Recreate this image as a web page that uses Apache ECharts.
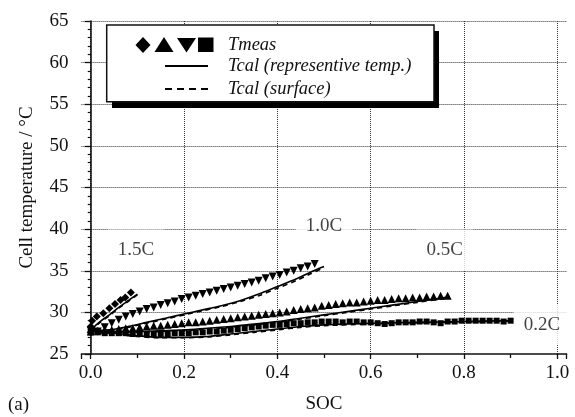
<!DOCTYPE html>
<html><head><meta charset="utf-8">
<script src="https://cdn.jsdelivr.net/npm/echarts@6/dist/echarts.min.js"></script>
<style>html,body{margin:0;padding:0;background:#fff}#c{width:575px;height:417px}</style>
</head><body><div id="c"></div>
<script>
// ---- data (SOC, temperature °C) ----
const meas15 = [[0,27.6],[0.005,27.9],[0,28.3],[0.003,29.0],[0.013,29.5],[0.027,29.9],[0.04,30.5],[0.052,31.0],[0.064,31.5],[0.074,31.8],[0.086,32.4]];
const meas10 = [[0,27.8],[0.015,27.7],[0.03,28.2],[0.045,28.7],[0.06,29.1],[0.075,29.5],[0.09,29.8],[0.105,30.1],[0.12,30.4],[0.135,30.6],[0.15,30.9],[0.165,31.1],[0.18,31.3],[0.195,31.6],[0.21,31.8],[0.225,32.0],[0.24,32.2],[0.255,32.4],[0.27,32.6],[0.285,32.8],[0.30,33.0],[0.315,33.2],[0.33,33.4],[0.345,33.6],[0.36,33.8],[0.375,34.1],[0.39,34.3],[0.405,34.5],[0.42,34.8],[0.435,35.0],[0.45,35.3],[0.465,35.5],[0.48,35.8]];
const meas05 = [[0,27.7],[0.015,27.8],[0.03,27.9],[0.045,27.9],[0.06,28.0],[0.075,28.1],[0.09,28.1],[0.105,28.2],[0.12,28.3],[0.135,28.4],[0.15,28.4],[0.165,28.5],[0.18,28.6],[0.195,28.7],[0.21,28.8],[0.225,28.8],[0.24,28.9],[0.255,29.0],[0.27,29.1],[0.285,29.2],[0.30,29.3],[0.315,29.4],[0.33,29.5],[0.345,29.6],[0.36,29.7],[0.375,29.8],[0.39,29.9],[0.405,30.0],[0.42,30.1],[0.435,30.3],[0.45,30.4],[0.465,30.5],[0.48,30.6],[0.495,30.8],[0.51,30.9],[0.525,31.0],[0.54,31.1],[0.555,31.2],[0.57,31.2],[0.585,31.3],[0.60,31.4],[0.615,31.5],[0.63,31.5],[0.645,31.6],[0.66,31.7],[0.675,31.7],[0.69,31.8],[0.705,31.8],[0.72,31.9],[0.735,31.9],[0.75,32.0],[0.765,32.0]];
const meas02 = [[0,27.6],[0.015,27.6],[0.03,27.5],[0.045,27.5],[0.06,27.5],[0.075,27.5],[0.09,27.4],[0.105,27.4],[0.12,27.4],[0.135,27.4],[0.15,27.4],[0.165,27.4],[0.18,27.5],[0.195,27.5],[0.21,27.5],[0.225,27.6],[0.24,27.6],[0.255,27.7],[0.27,27.7],[0.285,27.8],[0.30,27.9],[0.315,28.0],[0.33,28.1],[0.345,28.2],[0.36,28.3],[0.375,28.4],[0.39,28.5],[0.405,28.5],[0.42,28.6],[0.435,28.7],[0.45,28.7],[0.465,28.8],[0.48,28.8],[0.495,28.9],[0.51,28.9],[0.525,28.9],[0.54,28.8],[0.555,28.9],[0.57,28.9],[0.585,28.8],[0.60,28.8],[0.615,28.7],[0.63,28.6],[0.645,28.7],[0.66,28.8],[0.675,28.8],[0.69,28.8],[0.705,28.9],[0.72,28.9],[0.735,28.8],[0.75,28.7],[0.765,28.9],[0.78,28.9],[0.795,29.0],[0.81,29.0],[0.825,29.0],[0.84,29.0],[0.855,29.0],[0.87,29.0],[0.885,28.9],[0.90,29.0]];

const calc15 = [[0,27.8],[0.01,28.4],[0.02,28.9],[0.04,29.7],[0.06,30.6],[0.08,31.4],[0.1,32.2]];
const calc10 = [[0,27.8],[0.04,27.9],[0.08,28.3],[0.12,28.8],[0.16,29.3],[0.2,29.8],[0.24,30.3],[0.28,30.8],[0.32,31.4],[0.36,32.2],[0.40,33.1],[0.44,34.0],[0.47,34.8],[0.50,35.5]];
const calc05 = [[0,27.8],[0.05,27.7],[0.1,27.7],[0.15,27.8],[0.2,27.9],[0.25,28.1],[0.3,28.3],[0.35,28.6],[0.4,28.9],[0.45,29.3],[0.5,29.7],[0.55,30.1],[0.6,30.5],[0.65,30.9],[0.7,31.3],[0.75,31.7],[0.77,31.9]];
const calc02 = [[0,27.8],[0.05,27.5],[0.1,27.2],[0.15,27.0],[0.2,27.0],[0.25,27.1],[0.3,27.4],[0.35,27.7],[0.4,28.0],[0.45,28.3],[0.5,28.5],[0.6,28.7],[0.7,28.8],[0.8,28.9],[0.9,29.0]];

const surf15 = [[0,27.8],[0.01,28.3],[0.02,28.8],[0.04,29.6],[0.06,30.5],[0.08,31.3],[0.1,32.1]];
const surf10 = [[0,27.8],[0.04,27.8],[0.08,28.2],[0.12,28.7],[0.16,29.2],[0.2,29.7],[0.24,30.2],[0.28,30.7],[0.32,31.3],[0.36,32.0],[0.40,32.9],[0.44,33.8],[0.47,34.6],[0.50,35.4]];
const surf05 = [[0,27.8],[0.05,27.6],[0.1,27.6],[0.15,27.7],[0.2,27.8],[0.25,28.0],[0.3,28.2],[0.35,28.5],[0.4,28.8],[0.45,29.2],[0.5,29.6],[0.55,30.0],[0.6,30.4],[0.65,30.8],[0.7,31.2],[0.75,31.6],[0.77,31.8]];
const surf02 = [[0,27.8],[0.05,27.4],[0.1,27.1],[0.15,26.95],[0.2,26.95],[0.25,27.05],[0.3,27.3],[0.35,27.6],[0.4,27.9],[0.45,28.2],[0.5,28.4],[0.6,28.6],[0.7,28.75],[0.8,28.85],[0.9,28.95]];

const rateLabels = ['1.5C','1.0C','0.5C','0.2C'];
const rateLabelAt = [[0.097,37.5],[0.5,40.35],[0.759,37.5],[0.967,28.5]];
const xTicks = [0,0.2,0.4,0.6,0.8,1.0];
const yTicks = [25,30,35,40,45,50,55,60,65];
const legendTexts = ['Tmeas','Tcal (representive temp.)','Tcal (surface)'];

// ---- chart ----
const serif = '"Liberation Serif", "Times New Roman", serif';
const chart = echarts.init(document.getElementById('c'), null, {renderer:'canvas'});

const markSeries = (data, symbol, size, rot) => ({
  type:'scatter', data, symbol, symbolSize:size, symbolRotate:rot||0,
  itemStyle:{color:'#000', opacity:1}, z:3, silent:true
});
const lineSeries = (data, dashed) => ({
  type:'line', data, showSymbol:false, smooth:0.3, z:4, silent:true,
  lineStyle:{color:'#000', width:1.6, type: dashed ? [5,4] : 'solid'}
});

const option = {
  backgroundColor:'#fff',
  animation:false,
  grid:{left:81.4, right:8.4, top:21, bottom:63, containLabel:false, outerBoundsMode:'none'},
  xAxis:{
    type:'value', min:-0.02, max:1.02,
    name:'SOC', nameLocation:'middle', nameGap:41,
    nameTextStyle:{fontFamily:serif, fontSize:19, color:'#111'},
    axisLine:{show:true, onZero:false, lineStyle:{color:'#111', width:1.6}},
    axisTick:{show:true, inside:false, length:5, lineStyle:{color:'#111', width:1.3}},
    minorTick:{show:true, splitNumber:2, length:4, lineStyle:{color:'#111', width:1.3}},
    axisLabel:{fontFamily:serif, fontSize:19, color:'#111', margin:10, showMinLabel:false, showMaxLabel:false,
      formatter:v => { const t = xTicks.find(a => Math.abs(a - v) < 1e-6); return t === undefined ? '' : t.toFixed(1); }},
    splitLine:{show:true, showMinLine:false, showMaxLine:false, lineStyle:{color:'#333', type:'dotted', width:1}}
  },
  yAxis:{
    type:'value', min:25, max:65, interval:5,
    name:'Cell temperature / °C', nameLocation:'middle', nameGap:45,
    nameTextStyle:{fontFamily:serif, fontSize:19, color:'#111'},
    axisLine:{show:true, lineStyle:{color:'#111', width:1.6}},
    axisTick:{show:true, inside:false, length:6, lineStyle:{color:'#111', width:1.3}},
    minorTick:{show:true, splitNumber:5, length:3, lineStyle:{color:'#111', width:1.2}},
    axisLabel:{fontFamily:serif, fontSize:19, color:'#111', margin:13,
      formatter:v => yTicks.includes(v) ? String(v) : ''},
    splitLine:{show:true, showMinLine:false, lineStyle:{color:'#333', type:'dotted', width:1}}
  },
  series:[
    {type:'scatter', data: rateLabelAt.map((p,i)=>({value:p, name:rateLabels[i]})), symbolSize:0, z:2, silent:true,
     label:{show:true, position:'inside', formatter:p=>p.name, fontFamily:serif, fontSize:19, color:'#111',
       backgroundColor:'#fff', padding:[14,10,8,10]}},
    markSeries(meas15,'diamond',8),
    markSeries(meas10,'triangle',8,180),
    markSeries(meas05,'triangle',8),
    markSeries(meas02,'rect',6),
    lineSeries(calc15,false), lineSeries(surf15,true),
    lineSeries(calc10,false), lineSeries(surf10,true),
    lineSeries(calc05,false), lineSeries(surf05,true),
    lineSeries(calc02,false), lineSeries(surf02,true)
  ],
  graphic:[
    {type:'rect', z:10, shape:{x:112, y:31, width:327, height:77}, style:{fill:'#000'}},
    {type:'rect', z:11, shape:{x:106.7, y:25, width:327.3, height:76.7}, style:{fill:'#fff', stroke:'#111', lineWidth:1.5}},
    {type:'polygon', z:12, shape:{points:[[143,37],[150.5,45],[143,53],[135.5,45]]}, style:{fill:'#000'}},
    {type:'polygon', z:12, shape:{points:[[164,37],[173.5,52],[154.5,52]]}, style:{fill:'#000'}},
    {type:'polygon', z:12, shape:{points:[[177,38],[196,38],[186.5,52.5]]}, style:{fill:'#000'}},
    {type:'rect', z:12, shape:{x:198, y:37.5, width:15.5, height:14.5}, style:{fill:'#000'}},
    {type:'line', z:12, shape:{x1:165, y1:66, x2:208, y2:66}, style:{stroke:'#000', lineWidth:2}},
    {type:'line', z:12, shape:{x1:165, y1:89, x2:208, y2:89}, style:{stroke:'#000', lineWidth:2, lineDash:[7,5]}},
    {type:'text', z:12, x:228, y:45, style:{text:legendTexts[0], font:'italic 18.5px '+serif, fill:'#111', verticalAlign:'middle'}},
    {type:'text', z:12, x:228, y:66, style:{text:legendTexts[1], font:'italic 18.5px '+serif, fill:'#111', verticalAlign:'middle'}},
    {type:'text', z:12, x:228, y:89, style:{text:legendTexts[2], font:'italic 18.5px '+serif, fill:'#111', verticalAlign:'middle'}},
    {type:'text', z:12, x:8, y:405, style:{text:'(a)', font:'19px '+serif, fill:'#111', verticalAlign:'middle'}}
  ]
};
chart.setOption(option);
</script></body></html>
